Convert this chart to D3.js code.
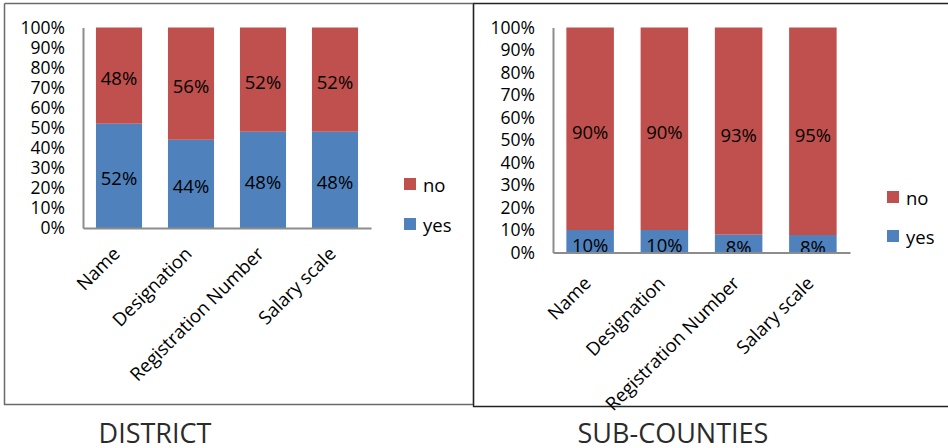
<!DOCTYPE html>
<html>
<head>
<meta charset="utf-8">
<script src="https://cdn.jsdelivr.net/npm/d3@7"></script>
<style>
  html, body { margin: 0; padding: 0; background: #fff; }
  svg { display: block; font-family: "Open Sans", "Noto Sans", sans-serif; }
</style>
</head>
<body>
<svg id="chart" width="948" height="448"></svg>
<script>
// Share of records that state each item, by level of local government
const categories = ["Name", "Designation", "Registration Number", "Salary scale"];
const seriesKeys = ["yes", "no"];
const districtYes = [52, 44, 48, 48];
const districtNo = [48, 56, 52, 52];
const subCountyYes = [10, 10, 8, 8];
const subCountyNo = [90, 90, 93, 95];
const yTickValues = [0, 10, 20, 30, 40, 50, 60, 70, 80, 90, 100];
const panelTitles = ["DISTRICT", "SUB-COUNTIES"];

const colors = { yes: "#4F81BD", no: "#C0504D" };
const svg = d3.select("#chart");

function rows(yes, no) {
  return categories.map((c, i) => ({ category: c, yes: yes[i], no: no[i] }));
}

function drawPanel(opt) {
  const data = rows(opt.yes, opt.no);
  const stack = d3.stack().keys(seriesKeys).offset(d3.stackOffsetExpand);
  const layers = stack(data);

  const x = d3.scaleBand().domain(categories)
    .range([opt.left, opt.right]).paddingInner(0.36).paddingOuter(0.18);
  const y = d3.scaleLinear().domain([0, 1]).range([opt.bottom, opt.top]);
  const yTick = d3.scaleLinear().domain([0, 100]).range([opt.bottom, opt.top]);

  const g = svg.append("g");

  // stacked bars
  layers.forEach(layer => {
    g.append("g").selectAll("rect").data(layer).join("rect")
      .attr("x", d => x(d.data.category))
      .attr("width", x.bandwidth())
      .attr("y", d => y(d[1]))
      .attr("height", d => y(d[0]) - y(d[1]))
      .attr("fill", colors[layer.key]);
  });

  // value labels in the middle of each segment
  layers.forEach(layer => {
    g.append("g").selectAll("text").data(layer).join("text")
      .attr("x", d => x(d.data.category) + x.bandwidth() / 2)
      .attr("y", d => (y(d[0]) + y(d[1])) / 2 + opt.labelShift)
      .attr("text-anchor", "middle")
      .attr("dominant-baseline", "central")
      .attr("font-size", 18.5)
      .attr("fill", "#000")
      .text(d => d.data[layer.key] + "%");
  });

  // y axis
  const yAxis = g.append("g")
    .attr("transform", `translate(${opt.left},0)`)
    .call(d3.axisLeft(yTick).tickValues(yTickValues).tickSize(0).tickPadding(18)
      .tickFormat(d => d + "%"));
  yAxis.select(".domain").attr("stroke", "#8c8c8c").attr("stroke-width", 2);
  yAxis.selectAll("text").attr("font-size", 17.5).attr("fill", "#000")
    .attr("font-family", "'Open Sans', sans-serif");

  // x axis
  const xAxis = g.append("g")
    .attr("transform", `translate(0,${opt.bottom})`)
    .call(d3.axisBottom(x).tickSize(0).tickFormat(""));
  xAxis.select(".domain").attr("stroke", "#8c8c8c").attr("stroke-width", 2);

  // slanted category labels
  g.append("g").selectAll("text").data(categories).join("text")
    .attr("transform", c => `translate(${x(c) + x.bandwidth() / 2 + opt.catDx},${opt.bottom + opt.catDy}) rotate(-45)`)
    .attr("text-anchor", "end")
    .attr("font-size", 18.5)
    .attr("fill", "#000")
    .text(c => c);

  // legend, "no" above "yes"
  const legend = g.append("g");
  ["no", "yes"].forEach((k, i) => {
    const ly = opt.legendY + i * opt.legendGap;
    legend.append("rect")
      .attr("x", opt.legendX).attr("y", ly - 6)
      .attr("width", 12).attr("height", 12)
      .attr("fill", colors[k]);
    legend.append("text")
      .attr("x", opt.legendX + 19).attr("y", ly)
      .attr("dominant-baseline", "central")
      .attr("font-size", 18.5).attr("fill", "#000")
      .text(k);
  });

  // panel title below the frame
  svg.append("text")
    .attr("x", opt.titleX).attr("y", 442.5)
    .attr("text-anchor", "middle")
    .attr("font-size", 27)
    .attr("fill", "#2b2b2b")
    .text(opt.title);
}

// frames
svg.append("path")
  .attr("d", "M4.5,3.5 H473.5 V405.5 M4.5,3.5 V404.5 H473")
  .attr("fill", "none").attr("stroke", "#6a6a6a").attr("stroke-width", 1.5);
svg.append("path")
  .attr("d", "M473.5,3.5 H948 M473.5,3.5 V406.5 H948")
  .attr("fill", "none").attr("stroke", "#222").attr("stroke-width", 1.3);

drawPanel({
  yes: districtYes, no: districtNo, title: panelTitles[0],
  left: 83, right: 371, top: 27.5, bottom: 228,
  labelShift: 2, catDx: 2, catDy: 27,
  legendX: 404, legendY: 184, legendGap: 40, titleX: 155
});

drawPanel({
  yes: subCountyYes, no: subCountyNo, title: panelTitles[1],
  left: 553, right: 850, top: 27.5, bottom: 252.5,
  labelShift: 3, catDx: 2, catDy: 32,
  legendX: 887, legendY: 197, legendGap: 39, titleX: 673
});
</script>
</body>
</html>
